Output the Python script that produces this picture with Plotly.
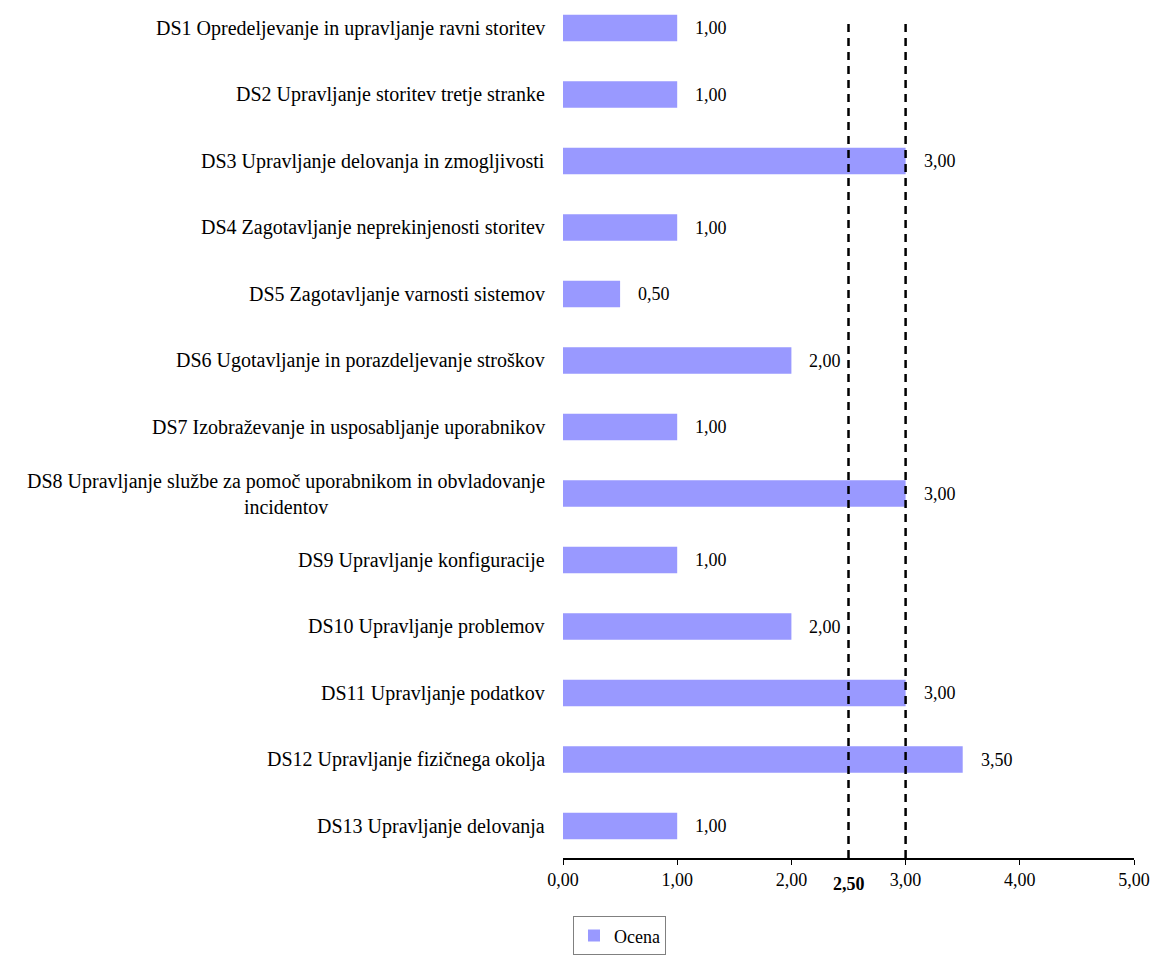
import plotly.graph_objects as go

categories = [
    "DS1 Opredeljevanje in upravljanje ravni storitev",
    "DS2 Upravljanje storitev tretje stranke",
    "DS3 Upravljanje delovanja in zmogljivosti",
    "DS4 Zagotavljanje neprekinjenosti storitev",
    "DS5 Zagotavljanje varnosti sistemov",
    "DS6 Ugotavljanje in porazdeljevanje stroškov",
    "DS7 Izobraževanje in usposabljanje uporabnikov",
    "DS8 Upravljanje službe za pomoč uporabnikom in obvladovanje<br>incidentov",
    "DS9 Upravljanje konfiguracije",
    "DS10 Upravljanje problemov",
    "DS11 Upravljanje podatkov",
    "DS12 Upravljanje fizičnega okolja",
    "DS13 Upravljanje delovanja",
]
ocena = [1.00, 1.00, 3.00, 1.00, 0.50, 2.00, 1.00, 3.00, 1.00, 2.00, 3.00, 3.50, 1.00]
thresholds = [2.50, 3.00]
x_ticks = [0, 1, 2, 3, 4, 5]

FONT = "Liberation Serif"
FS = 18
FS_CAT = 20
fig = go.Figure()
fig.add_trace(go.Bar(
    y=categories, x=ocena, orientation="h", name="Ocena",
    marker=dict(color="#9999FF", line=dict(width=0)), width=0.4,
    showlegend=True,
))

for c, v in zip(categories, ocena):
    fig.add_annotation(x=v, y=c, text=f"{v:.2f}".replace(".", ","), showarrow=False,
                       xanchor="left", xshift=16, font=dict(family=FONT, size=FS, color="#000"))
    fig.add_annotation(x=0, xref="paper", y=c, yref="y", text=c, showarrow=False,
                       xanchor="right", xshift=-16, align="center",
                       font=dict(family=FONT, size=FS_CAT, color="#000"))

for t in thresholds:
    fig.add_shape(type="line", x0=t, x1=t, xref="x", yref="paper", y0=0, y1=0.978,
                  line=dict(color="black", width=2.5, dash="8px,6px"))

fig.add_annotation(x=thresholds[0], xref="x", yref="paper", y=0, yshift=-14, yanchor="top",
                   text="<b>2,50</b>", showarrow=False, font=dict(family=FONT, size=FS, color="#000"))

fig.update_layout(
    width=1154, height=961, separators=",.",
    margin=dict(l=563, r=20, t=0, b=103),
    plot_bgcolor="white", paper_bgcolor="white",
    font=dict(family=FONT, size=FS, color="#000"),
    bargap=0.6,
    showlegend=True,
    legend=dict(x=0.0175, y=-0.068, xanchor="left", yanchor="top",
                bordercolor="#808080", borderwidth=1, font=dict(family=FONT, size=FS),
                itemwidth=30, tracegroupgap=0),
    xaxis=dict(range=[0, 5], tickvals=x_ticks, tickformat=".2f", showgrid=False,
               showline=True, linecolor="black", linewidth=1.5, ticks="outside",
               ticklen=5, tickcolor="black", zeroline=False,
               tickfont=dict(family=FONT, size=FS)),
    yaxis=dict(categoryorder="array", categoryarray=categories,
               range=[12.481, -0.421], showgrid=False, showline=False, ticks="",
               showticklabels=False),
)

fig.write_html("out.html")
